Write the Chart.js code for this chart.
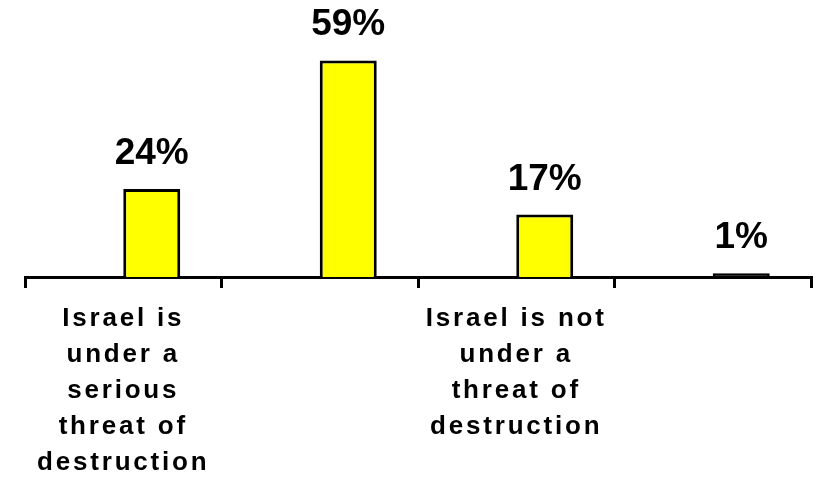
<!DOCTYPE html>
<html>
<head>
<meta charset="utf-8">
<script src="https://cdn.jsdelivr.net/npm/chart.js@4/dist/chart.umd.min.js"></script>
<style>
  html, body { margin: 0; padding: 0; background: #fff; }
  #wrap { width: 827px; height: 484px; }
</style>
</head>
<body>
<div id="wrap"><canvas id="chart" width="827" height="484"></canvas></div>
<script>
// data
const categories = [
  ["Israel is", "under a", "serious", "threat of", "destruction"],
  "",
  ["Israel is not", "under a", "threat of", "destruction"],
  ""
];
const shares = [24, 59, 17, 1];
// Excel left an empty first series, which pushes the bars right of the label
const emptySeries = [null, null, null, null];

const FONT = "'Liberation Sans', Arial, Helvetica, sans-serif";

// letter spaced tick labels, normal spacing for the rest
const spacing = {
  id: "spacing",
  beforeDraw(chart) { chart.ctx.letterSpacing = "2.8px"; },
  beforeDatasetsDraw(chart) { chart.ctx.letterSpacing = "0px"; }
};

const valueLabels = {
  id: "valueLabels",
  afterDatasetsDraw(chart) {
    const ctx = chart.ctx;
    const meta = chart.getDatasetMeta(1);
    ctx.save();
    ctx.letterSpacing = "0px";
    ctx.font = "bold 37px " + FONT;
    ctx.fillStyle = "#000";
    ctx.textAlign = "center";
    ctx.textBaseline = "alphabetic";
    meta.data.forEach((bar, i) => {
      ctx.fillText(shares[i] + "%", bar.x, bar.y - 25);
    });
    ctx.restore();
  }
};

new Chart(document.getElementById("chart"), {
  type: "bar",
  data: {
    labels: categories,
    datasets: [
      { data: emptySeries },
      {
        data: shares,
        // a very short bar is all outline in the original
        backgroundColor: (c) => (c.raw < 2 ? "#000" : "#ffff00"),
        borderColor: "#000",
        borderWidth: 3
      }
    ]
  },
  options: {
    responsive: false,
    animation: false,
    categoryPercentage: 0.58,
    barPercentage: 1,
    layout: { padding: { left: 25, right: 16, top: 20, bottom: 0 } },
    plugins: { legend: { display: false }, tooltip: { enabled: false } },
    scales: {
      x: {
        grid: { drawOnChartArea: false, color: "#000", lineWidth: 3, tickLength: 11 },
        border: { display: true, color: "#000", width: 3 },
        ticks: {
          color: "#000",
          font: { family: FONT, size: 26, weight: "bold", lineHeight: 1.38 },
          padding: 13,
          autoSkip: false,
          maxRotation: 0,
          minRotation: 0
        },
        afterFit(scale) { scale.height = 207; }
      },
      y: { display: false, min: 0, max: 70 }
    }
  },
  plugins: [spacing, valueLabels]
});
</script>
</body>
</html>
